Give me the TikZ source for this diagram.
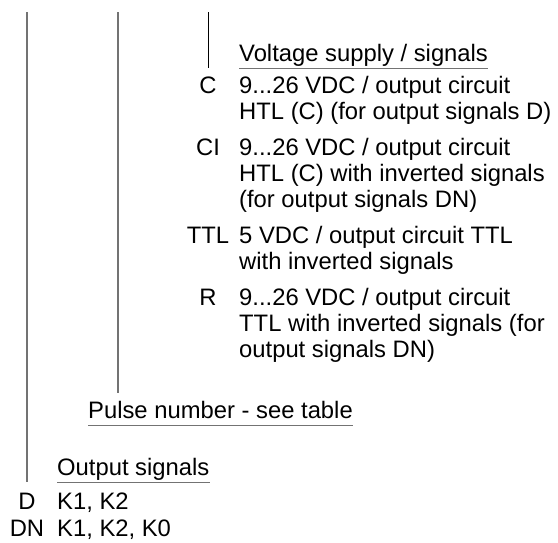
\documentclass[tikz,border=0pt]{standalone}
\usepackage{fontspec}
\setmainfont{Liberation Sans}
\usetikzlibrary{positioning}

\begin{document}
\begin{tikzpicture}[x=1pt,y=-1pt,
  every node/.style={inner sep=0pt,font=\fontsize{23.8}{26}\selectfont},
  hdr/.style={anchor=base west,text depth=7pt},
  lbl/.style={anchor=base},
  desc/.style={anchor=base west,align=left},
  lead/.style={draw=black!55,line width=1.6pt},
  uline/.style={draw=black!55,line width=1.2pt}
]
\useasboundingbox (0,0) rectangle (558,542);
% tops of the three leads
\coordinate (top1) at (27,12);
\coordinate (top2) at (118,12);
\coordinate (top3) at (208,12);

% voltage supply / signals (desc nodes sit on their last line)
\node[hdr] (volt) at (239,61) {Voltage supply / signals};
\node[lbl] (labC) at (208,93) {C};
\node[desc] (descC) at (239,119) {9...26 VDC / output circuit\\HTL (C) (for output signals D)};
\node[lbl] (labCI) at (208,155) {CI};
\node[desc] (descCI) at (239,207) {9...26 VDC / output circuit\\HTL (C) with inverted signals\\(for output signals DN)};
\node[lbl] (labTTL) at (208,243) {TTL};
\node[desc] (descTTL) at (239,269) {5 VDC / output circuit TTL\\with inverted signals};
\node[lbl] (labR) at (208,305) {R};
\node[desc] (descR) at (239,357) {9...26 VDC / output circuit\\TTL with inverted signals (for\\output signals DN)};

% pulse number
\node[hdr] (pulse) at (88,418) {Pulse number - see table};

% output signals
\node[hdr] (outs) at (57,475) {Output signals};
\node[lbl] (labD) at (27,509) {D};
\node[desc] (descD) at (57,509) {K1, K2};
\node[lbl] (labDN) at (27,536) {DN};
\node[desc] (descDN) at (57,536) {K1, K2, K0};

\draw[uline] (volt.south west) -- (volt.south east);
\draw[uline] (pulse.south west) -- (pulse.south east);
\draw[uline] (outs.south west) -- (outs.south east);

\draw[lead] (top1) -- (top1 |- outs.south);
\draw[lead,shorten >=8pt] (top2) -- (top2 |- pulse.north);
\draw[draw=black,line width=1pt] (top3) -- (top3 |- volt.south);
\end{tikzpicture}
\end{document}
